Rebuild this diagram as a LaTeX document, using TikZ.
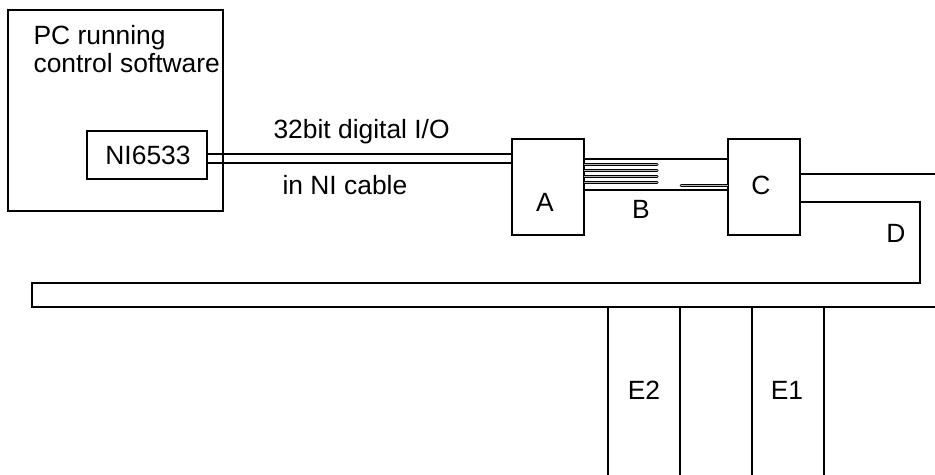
\documentclass[tikz,border=0pt]{standalone}
\usepackage{fontspec}
\setmainfont{Liberation Sans}
\begin{document}
\begin{tikzpicture}[x=0.5pt,y=-0.5pt,line width=0.55pt,
  lbl/.style={inner sep=0pt,font=\fontsize{13.2}{15}\selectfont},
  blk/.style={draw,inner sep=0pt},
  wire/.style={line width=0.5pt,black,line cap=round,double=gray!60,double distance=0.5pt}]
\useasboundingbox (0,0) rectangle (935,475);
% PC and card
\node[blk,minimum width=107.5pt,minimum height=100.5pt] (pc) at (115.5,110.5) {};
\node[blk,minimum width=60pt,minimum height=24pt] (ni) at (147,155) {};
\node[lbl] (nit) at (148,155) {NI6533};
\node[lbl,anchor=base west] (pc1) at (33,45) {PC running};
\node[lbl,anchor=base west] (pc2) at (33,73) {control software};
% A and C
\node[blk,minimum width=36pt,minimum height=48pt] (A) at (548,187) {};
\node[blk,minimum width=36pt,minimum height=48pt] (C) at (764,187) {};
\node[lbl,anchor=base] at (545,212) {A};
\node[lbl,anchor=base] at (761,195) {C};
\node[lbl,anchor=base] at (641,219) {B};
\node[lbl,anchor=base] at (896,243) {D};
% cable
\draw (ni.east |- 0,154) -- (A.west |- 0,154);
\draw (ni.east |- 0,163) -- (A.west |- 0,163);
\node[lbl,anchor=base west] (t1) at (273,139) {32bit digital I/O};
\node[lbl,anchor=base west] (t2) at (282,195) {in NI cable};
% B ribbon
\draw (A.east |- 0,159) -- (C.west |- 0,159);
\draw (A.east |- 0,190) -- (C.west |- 0,190);
\foreach \yy in {165,171,177,183}
  \draw[wire] (A.east |- 0,\yy) -- (657,\yy);
\draw[wire] (681,185.5) -- (C.west |- 0,185.5);
% D cable and bus strip
\coordinate (r1) at (935,174);
\draw (C.east |- r1) -- (r1);
\draw (C.east |- 0,202) -- (920,202) -- (920,283) -- (32,283) -- (32,307) -- (935,307);
% E columns
\foreach \xx in {608,680,752,824}
  \draw (\xx,307) -- (\xx,475);
\node[lbl,anchor=base] at (644,399) {E2};
\node[lbl,anchor=base] at (787,399) {E1};
\end{tikzpicture}
\end{document}
